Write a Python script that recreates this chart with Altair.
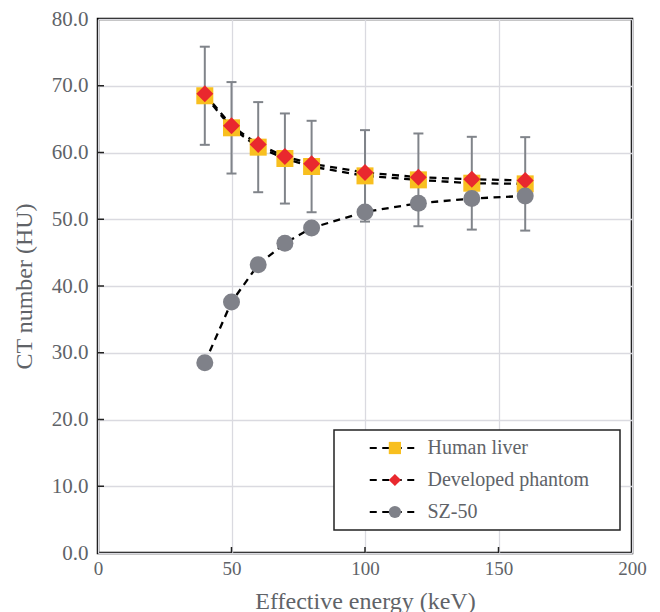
import altair as alt
import pandas as pd

energy = [40, 50, 60, 70, 80, 100, 120, 140, 160]
human_liver = [68.5, 63.7, 60.8, 59.1, 57.9, 56.5, 55.9, 55.4, 55.3]
developed_phantom = [68.8, 64.0, 61.2, 59.4, 58.3, 57.0, 56.3, 56.0, 55.8]
sz50 = [28.5, 37.6, 43.2, 46.4, 48.7, 51.1, 52.4, 53.1, 53.5]
liver_sd = [7.35, 6.85, 6.75, 6.75, 6.85, 6.85, 6.95, 6.95, 7.0]

series_names = ["Human liver", "Developed phantom", "SZ-50"]
series_colors = ["#F8BF1F", "#E9282E", "#7F8189"]
series_shapes = ["square", "diamond", "circle"]

x_ticks = [0, 50, 100, 150, 200]
y_ticks = [0, 10, 20, 30, 40, 50, 60, 70, 80]
x_inner_ticks = [50, 100, 150]
y_inner_ticks = [10, 20, 30, 40, 50, 60, 70]

rows = []
for name, vals in zip(series_names, [human_liver, developed_phantom, sz50]):
    for e, v in zip(energy, vals):
        rows.append({"energy": e, "series": name, "series_line": name, "ct": v})
df = pd.DataFrame(rows)

err = pd.DataFrame({
    "energy": energy,
    "lo": [m - s for m, s in zip(human_liver, liver_sd)],
    "hi": [m + s for m, s in zip(human_liver, liver_sd)],
})

xt = pd.DataFrame({"v": x_inner_ticks})
yt = pd.DataFrame({"v": y_inner_ticks})

text_color = "#606368"
serif = "Liberation Serif"

x_axis = alt.Axis(values=x_ticks, title="Effective energy (keV)", format="d",
                  titleY=55, titleBaseline="alphabetic", labelFontSize=19,
                  labelPadding=6, labelFlush=False)
y_axis = alt.Axis(values=y_ticks, title="CT number (HU)", format=".1f",
                  titleX=-74, titleBaseline="middle", labelPadding=10,
                  labelFontSize=21, labelFlush=False)
x_scale = alt.Scale(domain=[0, 200], nice=False)
y_scale = alt.Scale(domain=[0, 80], nice=False)


def X(field):
    return alt.X(field, type="quantitative", scale=x_scale, axis=x_axis)


def Y(field):
    return alt.Y(field, type="quantitative", scale=y_scale, axis=y_axis)


err_color = "#80848A"

bars = alt.Chart(err).mark_rule(color=err_color, strokeWidth=2).encode(
    x=X("energy"), y=Y("lo"), y2="hi"
)
caps = alt.Chart(err).transform_fold(["lo", "hi"], as_=["k", "val"]).mark_tick(
    orient="horizontal", size=10, thickness=2, color=err_color, opacity=1
).encode(x=X("energy"), y=Y("val"))

legend_x = 236
legend_y = 411

lines = alt.Chart(df).mark_line(color="black", strokeWidth=2.3).encode(
    x=X("energy"), y=Y("ct"),
    strokeDash=alt.StrokeDash(
        "series_line:N", sort=series_names,
        scale=alt.Scale(range=[[7, 5.5], [7, 5.5], [7, 5.5]]),
        legend=alt.Legend(
            title=" ", titleOrient="right", titleFontSize=1, titlePadding=23,
            titleOpacity=0,
            orient="none", legendX=legend_x, legendY=legend_y,
            symbolType="M-4,0H4", symbolSize=156.25, symbolStrokeWidth=2.2,
            symbolStrokeColor="black", symbolFillColor="transparent",
            labelFont=serif, labelFontSize=20, labelColor=text_color,
            labelLimit=400,
            strokeColor="#222222", fillColor="white", padding=8, rowPadding=12,
            symbolOffset=42.75, labelOffset=22.75,
        ),
    ),
)

pt_legend = alt.Legend(
    title=None, orient="none", legendX=legend_x, legendY=legend_y,
    symbolSize=150, symbolOffset=42.9, labelOpacity=0, labelLimit=400,
    labelFont=serif, labelFontSize=20, padding=8, rowPadding=12,
    symbolStrokeWidth=0, labelOffset=22.75,
)

points = alt.Chart(df).mark_point(filled=True, size=289, opacity=1, strokeWidth=0).encode(
    x=X("energy"), y=Y("ct"),
    color=alt.Color("series:N", scale=alt.Scale(domain=series_names, range=series_colors),
                    legend=pt_legend),
    shape=alt.Shape("series:N", scale=alt.Scale(domain=series_names, range=series_shapes),
                    legend=pt_legend),
)

ytick_layer = alt.Chart(yt).mark_rule(color="#222222", strokeWidth=1.5).encode(
    y=Y("v"), x=alt.value(0), x2=alt.value(6)
)
xtick_layer = alt.Chart(xt).mark_rule(color="#222222", strokeWidth=1.5).encode(
    x=X("v"), y=alt.value(534), y2=alt.value(528)
)

chart = alt.layer(bars, caps, lines, points, ytick_layer, xtick_layer).properties(
    width=534, height=534,
    autosize=alt.AutoSizeParams(type="none"),
    padding={"left": 90, "top": 11, "right": 20, "bottom": 59},
).configure_view(
    stroke="black", strokeWidth=2.5
).configure_axis(
    grid=True, gridColor="#dadae0", gridWidth=1.3, domain=False, ticks=False,
    tickSize=0, labelFont=serif, labelColor=text_color, titleFont=serif,
    titleFontSize=24, titleColor=text_color, titleFontWeight="normal",
).configure_axisX(labelFontSize=19).configure_axisY(labelFontSize=21
).configure_legend(strokeWidth=1.5)

chart.save("out.html", embed_options={"renderer": "svg", "actions": False})
